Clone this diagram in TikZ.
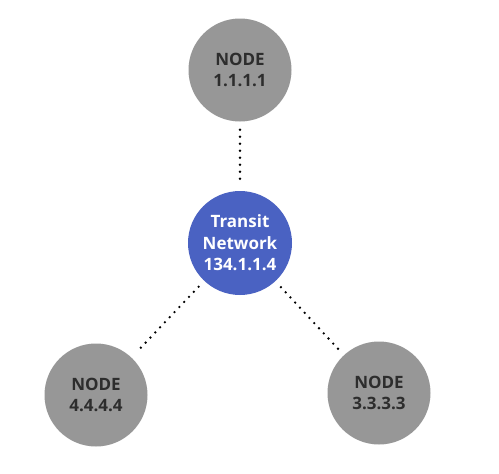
\documentclass[tikz,border=0pt]{standalone}
\usepackage{fontspec}
\setmainfont{Open Sans}
\definecolor{nodegrey}{RGB}{151,151,151}
\definecolor{transitblue}{RGB}{74,98,194}
\definecolor{textgrey}{RGB}{45,45,45}
\begin{document}
\begin{tikzpicture}[x=1pt,y=-1pt,
  greynode/.style={circle,fill=nodegrey,minimum size=103pt,inner sep=0pt,align=center,
    text=textgrey,font=\fontsize{17}{21.5}\selectfont\bfseries},
  bluenode/.style={circle,fill=transitblue,minimum size=104pt,inner sep=0pt,align=center,
    text=white,font=\fontsize{17}{21.5}\selectfont\bfseries},
  dotline/.style={line width=2.6pt,line cap=round,dash pattern=on 0pt off 7pt,black,
    shorten <=8pt,shorten >=8pt}]
\useasboundingbox (0,0) rectangle (499,474);
\fill[white] (0,0) rectangle (499,474);
\node[greynode] (n1) at (240,70) {NODE\\1.1.1.1};
\node[bluenode] (tn) at (240,243) {Transit\\Network\\134.1.1.4};
\node[greynode] (n4) at (96,395) {NODE\\4.4.4.4};
\node[greynode] (n3) at (379,393) {NODE\\3.3.3.3};
\draw[dotline] (n1) -- (tn);
\draw[dotline] (tn) -- (n4);
\draw[dotline] (tn) -- (n3);
\end{tikzpicture}
\end{document}
